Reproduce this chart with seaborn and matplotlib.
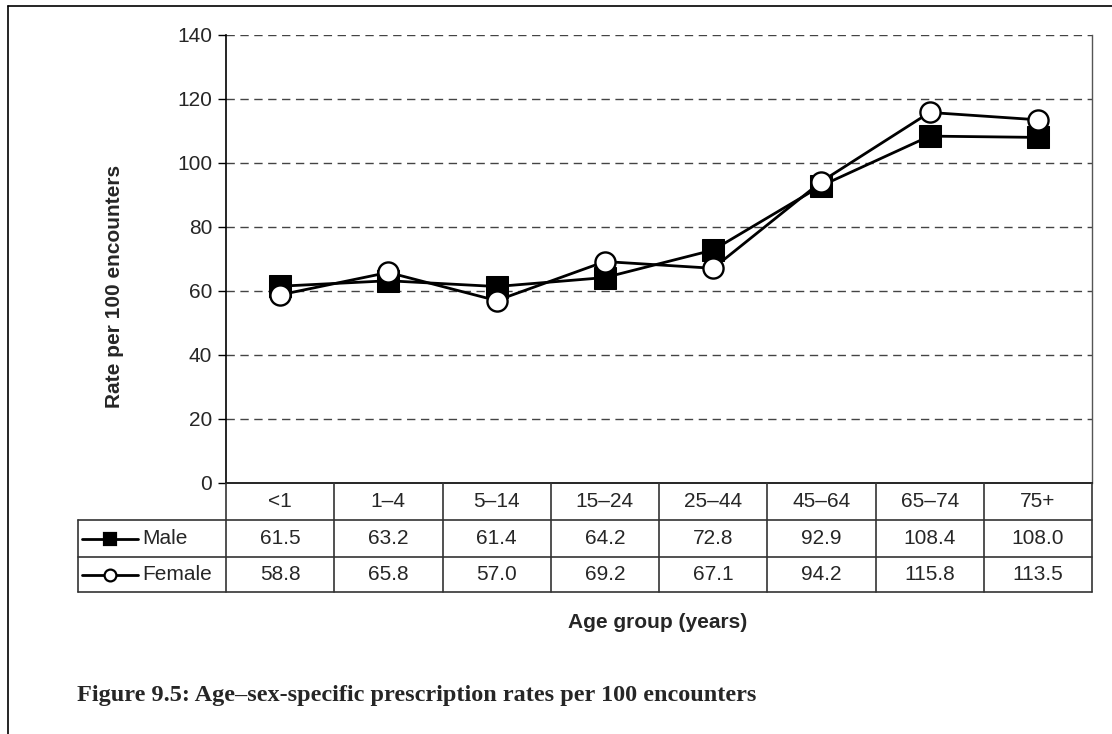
import matplotlib
matplotlib.use("Agg")
import matplotlib.pyplot as plt
from matplotlib.lines import Line2D
import seaborn as sns
import pandas as pd

# Data
age_groups = ["<1", "1\u20134", "5\u201314", "15\u201324", "25\u201344", "45\u201364", "65\u201374", "75+"]
male_rates = [61.5, 63.2, 61.4, 64.2, 72.8, 92.9, 108.4, 108.0]
female_rates = [58.8, 65.8, 57.0, 69.2, 67.1, 94.2, 115.8, 113.5]
y_ticks = [0, 20, 40, 60, 80, 100, 120, 140]

W, H = 1112, 734
sns.set_style("white")
plt.rcParams["font.family"] = ["Liberation Sans", "DejaVu Sans"]

fig = plt.figure(figsize=(W / 100, H / 100), dpi=100)


def fx(x):
    return x / W


def fy(y):
    return 1 - y / H


# plot area in pixels
L, R, T, B = 226, 1092, 35, 483
ax = fig.add_axes([fx(L), fy(B), fx(R - L), (B - T) / H])

pos = list(range(len(age_groups)))
df_m = pd.DataFrame({"pos": pos, "rate": male_rates})
df_f = pd.DataFrame({"pos": pos, "rate": female_rates})

sns.lineplot(data=df_m, x="pos", y="rate", ax=ax, color="black", linewidth=2,
             marker="s", markersize=15.5, markerfacecolor="black", markeredgecolor="black")
sns.lineplot(data=df_f, x="pos", y="rate", ax=ax, color="black", linewidth=2,
             marker="o", markersize=14.5, markerfacecolor="white", markeredgecolor="black",
             markeredgewidth=1.7)

ax.set_xlim(-0.5, len(age_groups) - 0.5)
ax.set_ylim(0, 140)
ax.set_yticks(y_ticks)
ax.set_yticklabels([str(v) for v in y_ticks], fontsize=15)
ax.set_xticks([])
ax.set_xlabel("")
ax.set_ylabel("")
ax.tick_params(axis="y", direction="out", length=6, width=1, color="black", pad=4, left=True)
for v in y_ticks[1:]:
    ax.axhline(v, color="#444444", linewidth=1, linestyle=(0, (6, 4)), zorder=0)
ax.spines["top"].set_visible(False)
ax.spines["left"].set_color("black")
ax.spines["left"].set_linewidth(1.2)
ax.spines["bottom"].set_color("black")
ax.spines["bottom"].set_linewidth(1.2)
ax.spines["right"].set_color("#555555")
ax.spines["right"].set_linewidth(1)

# data table below the plot
col_w = (R - L) / len(age_groups)
row_y = [483, 520, 557, 592]
tl = 78
lc = "#333333"


def hline(x0, x1, y):
    fig.add_artist(Line2D([fx(x0), fx(x1)], [fy(y), fy(y)], color=lc, linewidth=1.2,
                          transform=fig.transFigure))


def vline(x, y0, y1):
    fig.add_artist(Line2D([fx(x), fx(x)], [fy(y0), fy(y1)], color=lc, linewidth=1.2,
                          transform=fig.transFigure))


hline(tl, R, row_y[1])
hline(tl, R, row_y[2])
hline(tl, R, row_y[3])
vline(tl, row_y[1], row_y[3])
for i in range(len(age_groups) + 1):
    vline(L + i * col_w, row_y[0], row_y[3])

for i, lab in enumerate(age_groups):
    cx = L + (i + 0.5) * col_w
    fig.text(fx(cx), fy((row_y[0] + row_y[1]) / 2), lab, ha="center", va="center", fontsize=15)
    fig.text(fx(cx), fy((row_y[1] + row_y[2]) / 2), f"{male_rates[i]:.1f}", ha="center",
             va="center", fontsize=15)
    fig.text(fx(cx), fy((row_y[2] + row_y[3]) / 2), f"{female_rates[i]:.1f}", ha="center",
             va="center", fontsize=15)

# legend keys inside the table
for (name, mk, fc), y0, y1 in zip([("Male", "s", "black"), ("Female", "o", "white")],
                                  row_y[1:3], row_y[2:4]):
    yc = (y0 + y1) / 2
    fig.add_artist(Line2D([fx(82), fx(138)], [fy(yc), fy(yc)], color="black", linewidth=2,
                          transform=fig.transFigure))
    fig.add_artist(Line2D([fx(110)], [fy(yc)], marker=mk, markersize=8.5, markerfacecolor=fc,
                          markeredgecolor="black", markeredgewidth=1.6, linestyle="none",
                          transform=fig.transFigure))
    fig.text(fx(142), fy(yc), name, ha="left", va="center", fontsize=15)

# axis titles
fig.text(fx(658), fy(623), "Age group (years)", ha="center", va="center",
         fontsize=15, fontweight="bold")
fig.text(fx(114), fy(286), "Rate per 100 encounters", ha="center", va="center",
         fontsize=15, fontweight="bold", rotation=90)

# caption
fig.text(fx(77), fy(695), "Figure 9.5: Age\u2013sex-specific prescription rates per 100 encounters",
         ha="left", va="center", fontsize=17.5, fontweight="bold",
         family=["Liberation Serif", "DejaVu Serif"])

# page frame
fig.add_artist(Line2D([fx(8), fx(8)], [fy(6), 0], color="black", linewidth=1.2,
                      transform=fig.transFigure))
fig.add_artist(Line2D([fx(8), 1], [fy(6), fy(6)], color="black", linewidth=1.2,
                      transform=fig.transFigure))

fig.savefig("out.png", dpi=100)
